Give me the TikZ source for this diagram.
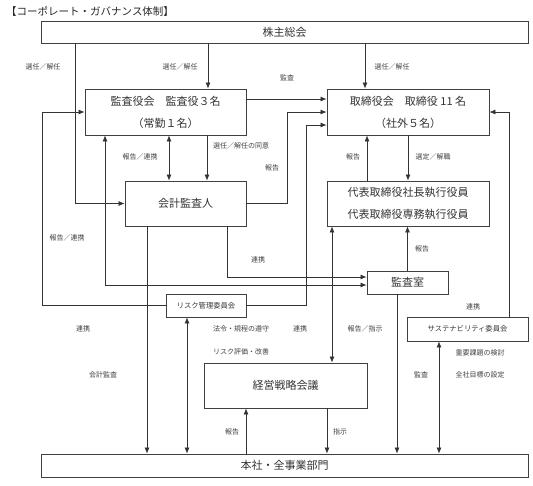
\documentclass[tikz,border=0pt]{standalone}
\usepackage{fontspec}
\setmainfont{Noto Sans CJK JP}
\usetikzlibrary{arrows.meta}

\begin{document}
\begin{tikzpicture}[x=1pt,y=-1pt,
    box/.style={draw=black!75,line width=0.8pt,text=black!80,font=\fontsize{11}{22}\selectfont,inner sep=0pt,align=center},
    sbox/.style={box,font=\fontsize{7.3}{9}\selectfont},
    lbl/.style={text=black!75,font=\fontsize{7}{8}\selectfont,inner sep=1pt},
    arr/.style={draw=black!80,line width=0.7pt,-{Latex[length=6pt,width=5pt]}},
    arrr/.style={draw=black!80,line width=0.7pt,{Latex[length=6pt,width=5pt]}-{Latex[length=6pt,width=5pt]}}]
    \useasboundingbox (0,0) rectangle (533,485);
    \node[anchor=west,text=black!85,font=\fontsize{10.5}{12}\selectfont,inner sep=0pt] (title) at (6,11) {【コーポレート・ガバナンス体制】};
    \node[box,minimum width=487,minimum height=22] (soukai) at (284.5,32) {株主総会};
    \node[box,minimum width=161,minimum height=46] (kansayaku) at (165.5,112) {監査役会　監査役３名\\（常勤１名）};
    \node[box,minimum width=162,minimum height=46] (torishimari) at (408,112) {取締役会　取締役 11 名\\（社外５名）};
    \node[box,minimum width=121,minimum height=45] (kaikei) at (185.5,203.5) {会計監査人};
    \node[box,minimum width=162,minimum height=45] (daihyo) at (408,203.5) {代表取締役社長執行役員\\代表取締役専務執行役員};
    \node[box,minimum width=81,minimum height=23] (kansashitsu) at (407.5,282.5) {監査室};
    \node[sbox,minimum width=80,minimum height=23] (risk) at (206,305.5) {リスク管理委員会};
    \node[sbox,minimum width=121,minimum height=24] (sustain) at (467.5,329) {サステナビリティ委員会};
    \node[box,minimum width=163,minimum height=45] (senryaku) at (285.5,385.5) {経営戦略会議};
    \node[box,minimum width=487,minimum height=23] (honsha) at (284.5,465.5) {本社・全事業部門};
    \node[lbl] (l1) at (43,67) {選任／解任};
    \node[lbl] (l2) at (180,67) {選任／解任};
    \node[lbl] (l3) at (392,67) {選任／解任};
    \node[lbl] (l4) at (287,78) {監査};
    \node[lbl] (l5) at (140,157) {報告／連携};
    \node[lbl] (l6) at (241,146) {選任／解任の同意};
    \node[lbl] (l7) at (272,168) {報告};
    \node[lbl] (l8) at (353,157) {報告};
    \node[lbl] (l9) at (433,157) {選定／解職};
    \node[lbl] (l10) at (67,238) {報告／連携};
    \node[lbl] (l11) at (258,260) {連携};
    \node[lbl] (l12) at (422,249) {報告};
    \node[lbl] (l13) at (473,307) {連携};
    \node[lbl] (l14) at (83,329) {連携};
    \node[lbl] (l15) at (241,329) {法令・規程の遵守};
    \node[lbl] (l16) at (300,329) {連携};
    \node[lbl] (l17) at (365,329) {報告／指示};
    \node[lbl] (l18) at (241,352) {リスク評価・改善};
    \node[lbl] (l19) at (480,353) {重要課題の検討};
    \node[lbl] (l20) at (103,375) {会計監査};
    \node[lbl] (l21) at (421,375) {監査};
    \node[lbl] (l22) at (480,375) {全社目標の設定};
    \node[lbl] (l23) at (232,432) {報告};
    \node[lbl] (l24) at (340,432) {指示};
    \draw [arr] (soukai.south -| 75,0) |- (kaikei.west);
    \draw [arr] (soukai.south -| 208,0) -- (kansayaku.north -| 208,0);
    \draw [arr] (soukai.south -| 365,0) -- (torishimari.north -| 365,0);
    \draw [arr] (kansayaku.east |- 0,99) -- (torishimari.west |- 0,99);
    \draw [arr] (kaikei.east) -| (287,112) -- (torishimari.west);
    \draw [arr] (risk.east) -| (306,125) -- (torishimari.west |- 0,125);
    \draw [arr] (sustain.north -| 509,0) |- (torishimari.east);
    \draw [arrr] (kansayaku.south -| 169,0) -- (kaikei.north -| 169,0);
    \draw [arr] (kansayaku.south -| 207,0) -- (kaikei.north -| 207,0);
    \draw [arrr] (kansayaku.south -| 105,0) |- (kansashitsu.west |- 0,285);
    \draw [arr] (kaikei.south -| 227,0) |- (kansashitsu.west |- 0,277);
    \draw [arr] (kaikei.south -| 147,0) -- (honsha.north -| 147,0);
    \draw [arr] (risk.west) -| (42,112) -- (kansayaku.west);
    \draw [arrr] (risk.south -| 187,0) -- (honsha.north -| 187,0);
    \draw [arr] (daihyo.north -| 367,0) -- (torishimari.south -| 367,0);
    \draw [arr] (torishimari.south -| 408,0) -- (daihyo.north -| 408,0);
    \draw [arr] (kansashitsu.north) -- (kansashitsu.north |- daihyo.south);
    \draw [arrr] (daihyo.south -| 332,0) -- (senryaku.north -| 332,0);
    \draw [arr] (kansashitsu.south -| 397,0) -- (honsha.north -| 397,0);
    \draw [arrr] (sustain.south -| 439,0) -- (honsha.north -| 439,0);
    \draw [arr] (honsha.north -| 246,0) -- (senryaku.south -| 246,0);
    \draw [arr] (senryaku.south -| 327,0) -- (honsha.north -| 327,0);
\end{tikzpicture}
\end{document}
